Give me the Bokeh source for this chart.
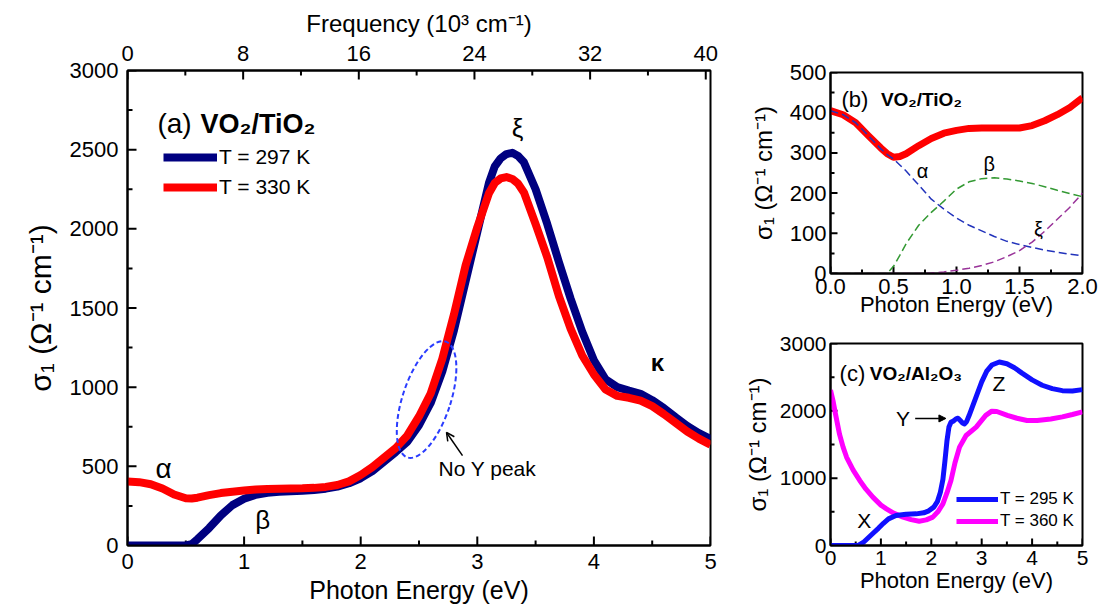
import math
from bokeh.plotting import figure
from bokeh.models import (Range1d, LinearAxis, FixedTicker, Label, Arrow, OpenHead, NormalHead,
                          Legend, LegendItem, PrintfTickFormatter)
from bokeh.layouts import row, column
from bokeh.embed import file_html
from bokeh.resources import INLINE

FONT = "Liberation Sans"

# ---------------- panel (a) data: VO2/TiO2 ----------------
energy_a = [0.0, 0.1, 0.2, 0.3, 0.4, 0.5, 0.55, 0.6, 0.65, 0.7, 0.8, 0.9, 1.0, 1.1, 1.2, 1.3,
            1.4, 1.5, 1.6, 1.7, 1.8, 1.9, 2.0, 2.1, 2.2, 2.3, 2.4, 2.5, 2.6, 2.7, 2.8, 2.9,
            3.0, 3.1, 3.15, 3.2, 3.25, 3.3, 3.35, 3.4, 3.5, 3.6, 3.7, 3.8, 3.9, 4.0, 4.1,
            4.2, 4.3, 4.4, 4.5, 4.6, 4.7, 4.8, 4.9, 5.0]
sigma_297K = [0, 0, 0, 0, 0, 0, 8, 40, 75, 110, 190, 255, 295, 320, 333, 339,
              343, 346, 351, 359, 372, 393, 425, 470, 530, 590, 655, 760, 900, 1100, 1360, 1670,
              1980, 2290, 2395, 2445, 2472, 2480, 2460, 2420, 2250, 2030, 1790, 1560, 1350, 1170, 1050,
              1000, 978, 958, 918, 868, 810, 755, 710, 672]
sigma_330K = [404, 400, 387, 360, 322, 298, 297, 302, 310, 318, 331, 340, 347, 353, 357, 359,
              360, 361, 364, 370, 382, 405, 445, 495, 555, 615, 695, 815, 960, 1180, 1460, 1770,
              2010, 2225, 2290, 2318, 2327, 2315, 2285, 2230, 2030, 1820, 1575, 1370, 1200, 1080, 985,
              945, 933, 915, 880, 830, 775, 720, 675, 636]
energy_ticks_a = [0, 1, 2, 3, 4, 5]
energy_minor_a = [0.5, 1.5, 2.5, 3.5, 4.5]
sigma_ticks_a = [0, 500, 1000, 1500, 2000, 2500, 3000]
sigma_minor_a = [250, 750, 1250, 1750, 2250, 2750]
freq_ticks = [0, 8, 16, 24, 32, 40]
freq_minor = [4, 12, 20, 28, 36]

# ---------------- panel (b) data: VO2/TiO2 at 330 K, fit components ----------------
energy_b = [0.0, 0.1, 0.2, 0.3, 0.4, 0.45, 0.5, 0.55, 0.6, 0.7, 0.8, 0.9, 1.0, 1.1, 1.2,
            1.3, 1.4, 1.5, 1.6, 1.7, 1.8, 1.9, 2.0]
sigma_b_330K = [405, 395, 375, 343, 312, 298, 289, 291, 298, 318, 336, 349, 356, 361, 362,
                362, 362, 362, 368, 380, 395, 413, 437]
alpha_b = [405, 395, 375, 343, 310, 296, 285, 270, 255, 220, 185, 160, 138, 120, 106,
           92, 80, 72, 65, 58, 53, 48, 44]
beta_b = [0, 0, 0, 0, 0, 0, 18, 45, 74, 120, 152, 180, 210, 228, 236,
          238, 235, 230, 224, 216, 207, 199, 191]
xi_b = [0, 0, 0, 0, 0, 0, 0, 0, 0, 0, 1, 4, 8, 13, 20,
        29, 42, 57, 78, 105, 135, 165, 200]
energy_ticks_b = [0.0, 0.5, 1.0, 1.5, 2.0]
energy_minor_b = [0.25, 0.75, 1.25, 1.75]
sigma_ticks_b = [0, 100, 200, 300, 400, 500]
sigma_minor_b = [50, 150, 250, 350, 450]

# ---------------- panel (c) data: VO2/Al2O3 ----------------
energy_c_295K = [0.0, 0.2, 0.4, 0.55, 0.65, 0.75, 0.85, 0.95, 1.05, 1.15, 1.3, 1.5, 1.7, 1.85,
                 1.95, 2.05, 2.12, 2.18, 2.23, 2.27, 2.31, 2.35, 2.39, 2.44, 2.49, 2.53, 2.57,
                 2.62, 2.66, 2.7, 2.75, 2.8, 2.9, 3.0, 3.1, 3.2, 3.35, 3.5, 3.65, 3.8, 4.0,
                 4.2, 4.4, 4.6, 4.8, 5.0]
sigma_c_295K = [0, 0, 0, 0, 45, 115, 185, 255, 330, 395, 445, 465, 470, 485,
                515, 570, 650, 790, 980, 1250, 1550, 1760, 1830, 1850, 1880, 1890, 1860,
                1820, 1805, 1840, 1930, 2030, 2230, 2430, 2590, 2680, 2725, 2700, 2640, 2560, 2460,
                2380, 2330, 2300, 2295, 2315]
energy_c_360K = [0.0, 0.05, 0.1, 0.18, 0.25, 0.32, 0.45, 0.58, 0.7, 0.84, 1.0, 1.11, 1.25, 1.44,
                 1.6, 1.76, 1.9, 2.03, 2.13, 2.23, 2.31, 2.39, 2.47, 2.56, 2.69, 2.89, 3.08,
                 3.2, 3.3, 3.51, 3.7, 3.9, 4.1, 4.37, 4.6, 4.8, 5.0]
sigma_c_360K = [2310, 2150, 1950, 1650, 1460, 1310, 1120, 966, 840, 718, 600, 545, 480, 421,
                385, 361, 380, 421, 500, 619, 780, 966, 1230, 1461, 1634, 1758, 1932,
                1995, 1990, 1932, 1890, 1857, 1855, 1880, 1910, 1945, 1985]
energy_ticks_c = [0, 1, 2, 3, 4, 5]
energy_minor_c = [0.5, 1.5, 2.5, 3.5, 4.5]
sigma_ticks_c = [0, 1000, 2000, 3000]
sigma_minor_c = [500, 1500, 2500]


def style_axis(ax, tick_size, label_size, tick_standoff, label_standoff):
    ax.axis_line_width = 2
    ax.axis_line_color = "black"
    ax.major_tick_in = 0
    ax.major_tick_out = 0
    ax.minor_tick_in = 0
    ax.minor_tick_out = 0
    ax.major_label_text_font = FONT
    ax.major_label_text_font_size = f"{tick_size}px"
    ax.major_label_text_color = "black"
    ax.major_label_standoff = tick_standoff
    ax.axis_label_text_font = FONT
    ax.axis_label_text_font_style = "normal"
    ax.axis_label_text_font_size = f"{label_size}px"
    ax.axis_label_text_color = "black"
    ax.axis_label_standoff = label_standoff


def inward_ticks(f, side, ticks, length, range_name=None):
    # short tick marks pointing into the frame, placed at the ticker positions
    kw = {}
    if range_name is not None:
        kw["x_range_name"] = range_name
    if side == "below":
        xs, ys, ang = ticks, [f.y_range.start] * len(ticks), math.pi / 2
    elif side == "above":
        xs, ys, ang = ticks, [f.y_range.end] * len(ticks), -math.pi / 2
    else:  # left
        xs, ys, ang = [f.x_range.start] * len(ticks), ticks, 0.0
    f.ray(x=xs, y=ys, length=length, angle=ang, length_units="screen",
          line_color="black", line_width=2, **kw)


def base_fig(w, h, xr, yr, left, right, top, bottom):
    f = figure(width=w, height=h, x_range=xr, y_range=yr, output_backend="svg",
               toolbar_location=None, min_border_left=left, min_border_right=right,
               min_border_top=top, min_border_bottom=bottom)
    f.xgrid.grid_line_color = None
    f.ygrid.grid_line_color = None
    f.outline_line_color = "black"
    f.outline_line_width = 2
    f.outline_line_alpha = 1
    f.background_fill_color = "white"
    f.border_fill_color = "white"
    return f


def label(f, x, y, text, size, style="normal", align="left", baseline="alphabetic"):
    f.add_layout(Label(x=x, y=y, text=text, text_font=FONT, text_font_size=f"{size}px",
                       text_font_style=style, text_align=align, text_baseline=baseline,
                       text_color="black"))


# ================= panel (a) =================
pa = base_fig(740, 613, Range1d(0, 5), Range1d(0, 3000), 127, 30, 70, 68)
pa.extra_x_ranges = {"freq": Range1d(0, 5 * 8.0655)}
pa.xaxis.ticker = FixedTicker(ticks=energy_ticks_a, minor_ticks=energy_minor_a)
pa.yaxis.ticker = FixedTicker(ticks=sigma_ticks_a, minor_ticks=sigma_minor_a)
pa.xaxis.axis_label = "Photon Energy (eV)"
pa.yaxis.axis_label = "σ₁ (Ω⁻¹ cm⁻¹)"
style_axis(pa.xaxis[0], 22, 25, 8, 4)
style_axis(pa.yaxis[0], 22, 30, 9, 10)
top_axis = LinearAxis(x_range_name="freq", axis_label="Frequency (10³ cm⁻¹)",
                      ticker=FixedTicker(ticks=freq_ticks, minor_ticks=freq_minor))
style_axis(top_axis, 22, 24, 10, 6)
pa.add_layout(top_axis, "above")
inward_ticks(pa, "below", energy_ticks_a, 9)
inward_ticks(pa, "below", energy_minor_a, 5)
inward_ticks(pa, "left", sigma_ticks_a, 9)
inward_ticks(pa, "left", sigma_minor_a, 5)
inward_ticks(pa, "above", freq_ticks, 9, range_name="freq")
inward_ticks(pa, "above", freq_minor, 5, range_name="freq")

r297 = pa.line(energy_a, sigma_297K, line_color="#000080", line_width=8, line_join="round")
r330 = pa.line(energy_a, sigma_330K, line_color="#ff0000", line_width=8, line_join="round")

leg_a = Legend(items=[LegendItem(label="T = 297 K", renderers=[r297]),
                      LegendItem(label="T = 330 K", renderers=[r330])],
               location=(36, 346), glyph_width=54, glyph_height=20, label_standoff=2,
               spacing=6, padding=0, margin=0, border_line_alpha=0, background_fill_alpha=0,
               label_text_font=FONT, label_text_font_size="21px", label_height=20,
               label_text_color="black")
pa.add_layout(leg_a)

label(pa, 0.257, 2665, "(a)", 28)
label(pa, 0.625, 2665, "VO₂/TiO₂", 27, style="bold")
label(pa, 0.31, 486, "α", 28, align="center", baseline="middle")
label(pa, 1.16, 158, "β", 26, align="center", baseline="middle")
label(pa, 3.345, 2634, "ξ", 26, align="center", baseline="middle")
label(pa, 4.545, 1156, "κ", 24, style="bold", align="center", baseline="middle")
label(pa, 2.667, 486, "No Y peak", 21, baseline="middle")

pa.ellipse(x=[2.565], y=[922], width=48, height=122, angle=-0.32,
           width_units="screen", height_units="screen", fill_color=None,
           line_color="#2a3cff", line_width=2, line_dash="5 3")
pa.add_layout(Arrow(end=OpenHead(size=8, line_width=1.5, line_color="black"),
                    x_start=2.873, y_start=568, x_end=2.736, y_end=714,
                    line_width=1.5, line_color="black"))

# ================= panel (b) =================
pb = base_fig(366, 320, Range1d(0, 2.0), Range1d(0, 500), 89, 24, 72, 47)
pb.xaxis.ticker = FixedTicker(ticks=energy_ticks_b, minor_ticks=energy_minor_b)
pb.yaxis.ticker = FixedTicker(ticks=sigma_ticks_b, minor_ticks=sigma_minor_b)
pb.xaxis.formatter = PrintfTickFormatter(format="%.1f")
pb.xaxis.axis_label = "Photon Energy (eV)"
pb.yaxis.axis_label = "σ₁ (Ω⁻¹ cm⁻¹)"
style_axis(pb.xaxis[0], 22, 22, 5, -5)
style_axis(pb.yaxis[0], 22, 24, 4, 10)
inward_ticks(pb, "below", energy_ticks_b, 7)
inward_ticks(pb, "below", energy_minor_b, 4)
inward_ticks(pb, "left", sigma_ticks_b, 7)
inward_ticks(pb, "left", sigma_minor_b, 4)

pb.line(energy_b, sigma_b_330K, line_color="#ff0000", line_width=7, line_join="round")
pb.line(energy_b, alpha_b, line_color="#2233bb", line_width=1.5, line_dash="8 4")
pb.line(energy_b, beta_b, line_color="#339933", line_width=1.5, line_dash="8 4")
pb.line(energy_b, xi_b, line_color="#993399", line_width=1.5, line_dash="8 4")

label(pb, 0.087, 432, "(b)", 22)
label(pb, 0.40, 432, "VO₂/TiO₂", 19, style="bold")
label(pb, 0.73, 256, "α", 20, align="center", baseline="middle")
label(pb, 1.26, 273, "β", 20, align="center", baseline="middle")
label(pb, 1.65, 111, "ξ", 20, align="center", baseline="middle")

# ================= panel (c) =================
pc = base_fig(366, 293, Range1d(0, 5), Range1d(0, 3000), 89, 24, 23, 68)
pc.xaxis.ticker = FixedTicker(ticks=energy_ticks_c, minor_ticks=energy_minor_c)
pc.yaxis.ticker = FixedTicker(ticks=sigma_ticks_c, minor_ticks=sigma_minor_c)
pc.xaxis.axis_label = "Photon Energy (eV)"
pc.yaxis.axis_label = "σ₁ (Ω⁻¹ cm⁻¹)"
style_axis(pc.xaxis[0], 21, 22, 5, 0)
style_axis(pc.yaxis[0], 21, 24, 4, 6)
inward_ticks(pc, "below", energy_ticks_c, 7)
inward_ticks(pc, "below", energy_minor_c, 4)
inward_ticks(pc, "left", sigma_ticks_c, 7)
inward_ticks(pc, "left", sigma_minor_c, 4)

r360 = pc.line(energy_c_360K, sigma_c_360K, line_color="#ff00ff", line_width=5, line_join="round")
r295 = pc.line(energy_c_295K, sigma_c_295K, line_color="#1010ff", line_width=5, line_join="round")

leg_c = Legend(items=[LegendItem(label="T = 295 K", renderers=[r295]),
                      LegendItem(label="T = 360 K", renderers=[r360])],
               location=(126, 14), glyph_width=42, glyph_height=18, label_standoff=2,
               spacing=2, padding=0, margin=0, border_line_alpha=0, background_fill_alpha=0,
               label_text_font=FONT, label_text_font_size="17px", label_height=18,
               label_text_color="black")
pc.add_layout(leg_c)

label(pc, 0.18, 2551, "(c)", 22)
label(pc, 0.78, 2551, "VO₂/Al₂O₃", 19, style="bold")
label(pc, 0.67, 371, "X", 21, align="center", baseline="middle")
label(pc, 1.44, 1887, "Y", 21, align="center", baseline="middle")
label(pc, 3.34, 2407, "Z", 21, align="center", baseline="middle")
pc.add_layout(Arrow(end=NormalHead(size=7, fill_color="black", line_color="black"),
                    x_start=1.68, y_start=1887, x_end=2.29, y_end=1887,
                    line_width=1.5, line_color="black"))

layout = row(pa, column(pb, pc))
open("out.html", "w").write(file_html(layout, INLINE))
